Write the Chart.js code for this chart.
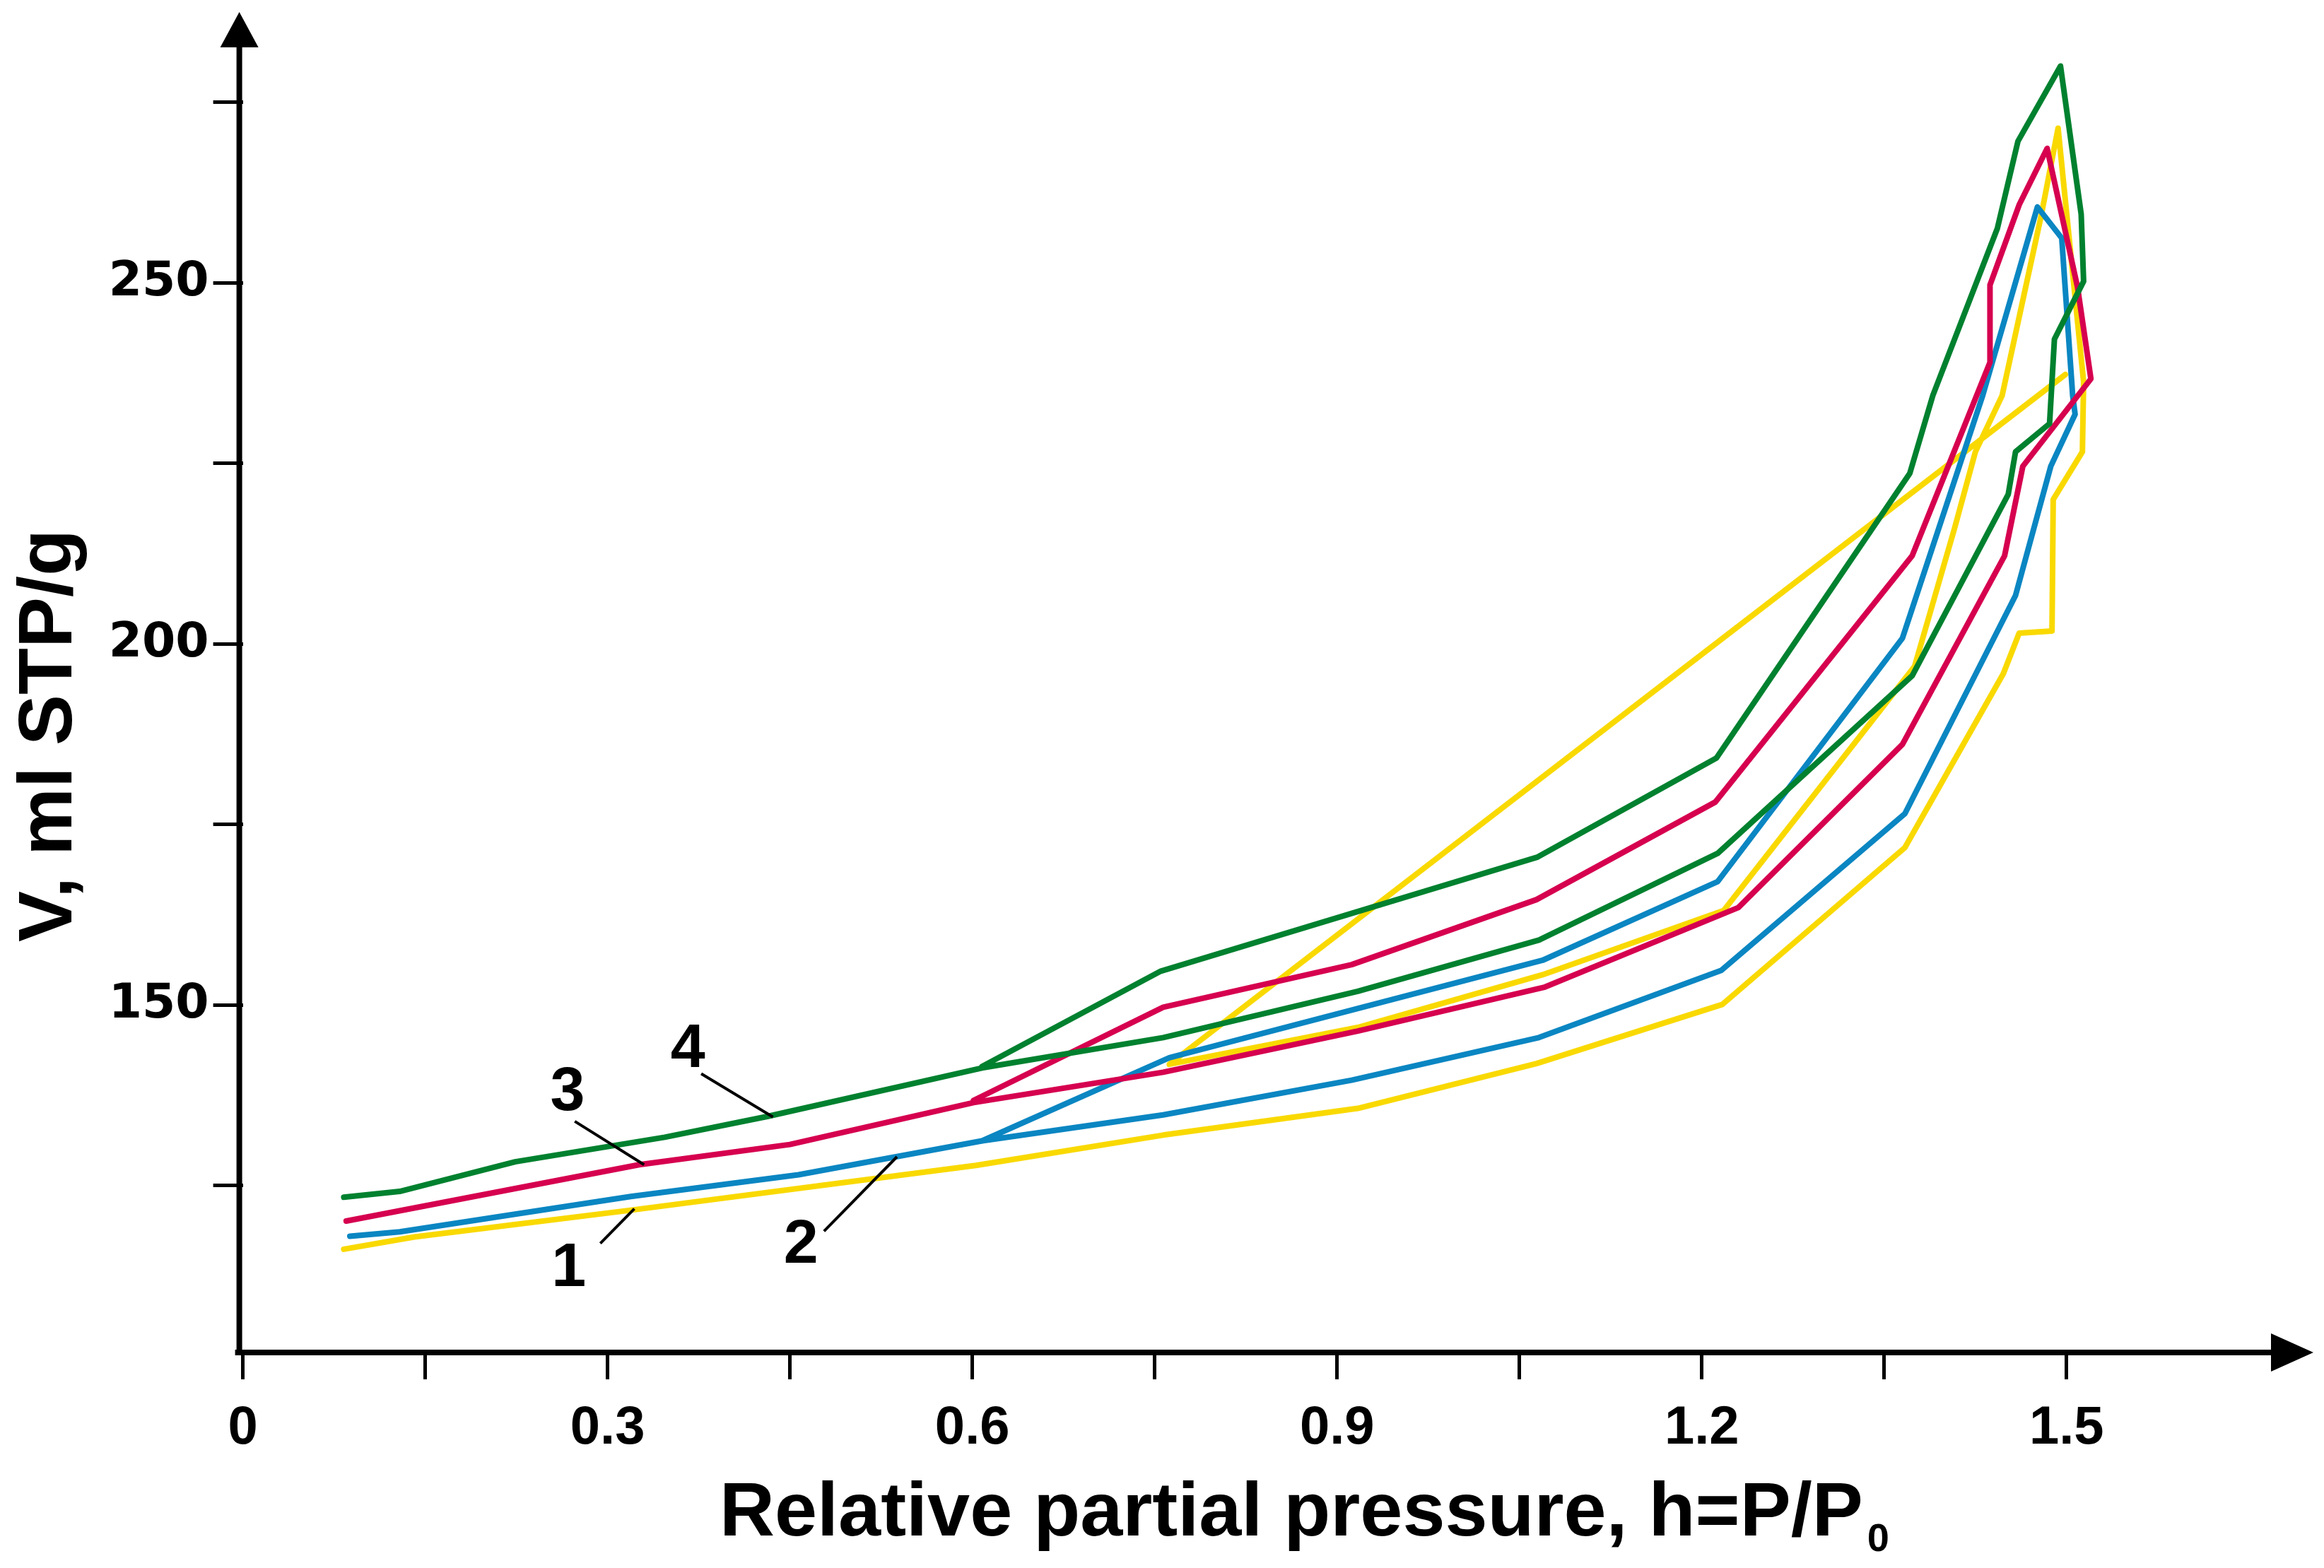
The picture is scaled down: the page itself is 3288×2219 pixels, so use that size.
<!DOCTYPE html>
<html>
<head>
<meta charset="utf-8">
<title>Adsorption / desorption isotherms</title>
<script src="https://cdn.jsdelivr.net/npm/chart.js@4.4.1/dist/chart.umd.min.js"></script>
<style>
  html, body { margin: 0; padding: 0; background: #fff; }
  #chart-wrap { width: 3288px; height: 2219px; }
</style>
</head>
<body>
<div id="chart-wrap"><canvas id="isotherm-chart" width="3288" height="2219"></canvas></div>
<script>
// curve 1 (yellow): adsorption up to the top, back down and the long straight return
var curve1X = [0.083, 0.141, 0.319, 0.603, 0.757, 0.917, 1.064, 1.217, 1.367, 1.448, 1.461, 1.488, 1.489, 1.513, 1.514, 1.493, 1.479, 1.447, 1.425, 1.408, 1.375, 1.218, 1.069, 0.917, 0.762, 1.499];
var curve1Y = [116.2, 117.9, 121.6, 127.8, 132.0, 135.7, 141.9, 150.1, 171.8, 195.9, 201.5, 201.8, 220.0, 226.6, 236.3, 271.4, 259.2, 234.4, 226.6, 216.1, 196.9, 163.1, 154.2, 146.9, 141.8, 237.3];

// curve 2 (blue)
var curve2X = [0.088, 0.129, 0.319, 0.457, 0.608, 0.757, 0.912, 1.066, 1.216, 1.367, 1.458, 1.487, 1.507, 1.505, 1.496, 1.476, 1.431, 1.365, 1.213, 1.069, 0.762, 0.608];
var curve2Y = [118.0, 118.6, 123.5, 126.5, 131.2, 134.8, 139.6, 145.5, 154.8, 176.5, 206.7, 224.6, 231.8, 234.4, 256.2, 260.5, 234.4, 200.8, 167.1, 156.2, 142.7, 131.2];

// curve 3 (red)
var curve3X = [0.085, 0.326, 0.450, 0.601, 0.757, 0.917, 1.071, 1.230, 1.365, 1.449, 1.464, 1.520, 1.509, 1.484, 1.461, 1.437, 1.437, 1.373, 1.211, 1.064, 0.912, 0.757, 0.601];
var curve3Y = [120.1, 127.9, 130.7, 136.5, 140.7, 146.4, 152.5, 163.5, 186.1, 212.2, 224.6, 236.7, 249.4, 268.6, 260.8, 249.7, 239.0, 212.2, 178.1, 164.6, 155.6, 149.7, 136.8];

// curve 4 (green)
var curve4X = [0.083, 0.129, 0.224, 0.347, 0.432, 0.608, 0.757, 0.917, 1.066, 1.213, 1.373, 1.452, 1.458, 1.486, 1.490, 1.514, 1.512, 1.495, 1.460, 1.443, 1.390, 1.371, 1.212, 1.065, 0.755, 0.608];
var curve4Y = [123.4, 124.2, 128.3, 131.7, 134.6, 141.3, 145.5, 151.9, 159.0, 171.0, 195.6, 220.7, 226.6, 230.5, 242.2, 250.2, 259.5, 280.0, 269.6, 257.5, 234.4, 223.6, 184.2, 170.5, 154.7, 141.5];

var xTickValues = [0, 0.15, 0.3, 0.45, 0.6, 0.75, 0.9, 1.05, 1.2, 1.35, 1.5];
var xTickLabels = ['0', '', '0.3', '', '0.6', '', '0.9', '', '1.2', '', '1.5'];
var yTickValues = [125, 150, 175, 200, 225, 250, 275];
var yTickLabels = ['', '150', '', '200', '', '250', ''];

// curve numbers and their leader lines, in data units
var markText = ['1', '2', '3', '4'];
var markX = [0.268, 0.459, 0.267, 0.366];
var markY = [113.5, 116.7, 137.8, 143.8];
var leaderFromX = [0.294, 0.478, 0.273, 0.377];
var leaderFromY = [117.0, 118.7, 133.9, 140.5];
var leaderToX = [0.322, 0.538, 0.330, 0.436];
var leaderToY = [121.8, 129.0, 127.9, 134.5];

var FONT = "'Liberation Sans', Arial, sans-serif";

function toPoints(xs, ys) {
    return xs.map(function (x, i) {
        return { x: x, y: ys[i] };
    });
}

function lineSet(label, xs, ys, color, order) {
    return {
        label: label,
        data: toPoints(xs, ys),
        showLine: true,
        borderColor: color,
        backgroundColor: color,
        borderWidth: 8,
        pointRadius: 0,
        fill: false,
        tension: 0,
        order: order
    };
}

// arrows on both axes, axis titles and the numbered leaders
var decorations = {
    id: 'decorations',
    afterDraw: function (chart) {
        var ctx = chart.ctx;
        var area = chart.chartArea;
        var xs = chart.scales.x;
        var ys = chart.scales.y;
        var axisX = area.left - 5;

        ctx.save();
        ctx.strokeStyle = '#000';
        ctx.fillStyle = '#000';
        ctx.lineWidth = 8;
        ctx.lineCap = 'butt';

        ctx.beginPath();
        ctx.moveTo(axisX - 6, area.bottom);
        ctx.lineTo(area.right - 50, area.bottom);
        ctx.stroke();
        ctx.beginPath();
        ctx.moveTo(area.right, area.bottom);
        ctx.lineTo(area.right - 60, area.bottom - 27);
        ctx.lineTo(area.right - 60, area.bottom + 27);
        ctx.closePath();
        ctx.fill();

        ctx.beginPath();
        ctx.moveTo(axisX, area.bottom + 4);
        ctx.lineTo(axisX, area.top + 40);
        ctx.stroke();
        ctx.beginPath();
        ctx.moveTo(axisX, area.top - 4);
        ctx.lineTo(axisX - 27, area.top + 46);
        ctx.lineTo(axisX + 27, area.top + 46);
        ctx.closePath();
        ctx.fill();

        // x title with subscript
        ctx.textAlign = 'left';
        ctx.textBaseline = 'alphabetic';
        ctx.font = 'bold 108px ' + FONT;
        var title = 'Relative partial pressure, h=P/P';
        ctx.fillText(title, 1018, 2173);
        var w = ctx.measureText(title).width;
        ctx.font = 'bold 56px ' + FONT;
        ctx.fillText('0', 1018 + w + 6, 2195);

        // y title
        ctx.save();
        ctx.translate(101, 1041);
        ctx.rotate(-Math.PI / 2);
        ctx.textAlign = 'center';
        ctx.font = 'bold 108px ' + FONT;
        ctx.fillText('V, ml STP/g', 0, 0);
        ctx.restore();

        // curve numbers
        ctx.lineWidth = 4;
        for (var i = 0; i < markText.length; i++) {
            ctx.beginPath();
            ctx.moveTo(xs.getPixelForValue(leaderFromX[i]), ys.getPixelForValue(leaderFromY[i]));
            ctx.lineTo(xs.getPixelForValue(leaderToX[i]), ys.getPixelForValue(leaderToY[i]));
            ctx.stroke();
        }
        ctx.font = 'bold 88px ' + FONT;
        ctx.textAlign = 'center';
        ctx.textBaseline = 'middle';
        for (var j = 0; j < markText.length; j++) {
            ctx.fillText(markText[j], xs.getPixelForValue(markX[j]), ys.getPixelForValue(markY[j]));
        }
        ctx.restore();
    }
};

var ctx = document.getElementById('isotherm-chart');
new Chart(ctx, {
    type: 'scatter',
    data: {
        datasets: [
            lineSet('1', curve1X, curve1Y, '#F9D900', 4),
            lineSet('2', curve2X, curve2Y, '#0A86C2', 3),
            lineSet('3', curve3X, curve3Y, '#D6004F', 2),
            lineSet('4', curve4X, curve4Y, '#00812F', 1)
        ]
    },
    options: {
        responsive: false,
        animation: false,
        devicePixelRatio: 1,
        layout: { padding: { left: 0, top: 21, right: 15, bottom: 0 } },
        plugins: {
            legend: { display: false },
            tooltip: { enabled: false }
        },
        elements: {
            line: { borderJoinStyle: 'round', borderCapStyle: 'round' }
        },
        scales: {
            x: {
                type: 'linear',
                min: 0,
                max: 1.703,
                border: { display: false },
                grid: { drawOnChartArea: false, drawTicks: true, tickLength: 38, tickWidth: 5, tickColor: '#000' },
                ticks: {
                    autoSkip: false,
                    maxRotation: 0,
                    padding: 24,
                    color: '#000',
                    font: { family: FONT, size: 76, weight: 'bold' },
                    callback: function (value, index) {
                        return xTickLabels[index];
                    }
                },
                afterBuildTicks: function (scale) {
                    scale.ticks = xTickValues.map(function (v) { return { value: v }; });
                },
                afterFit: function (scale) {
                    scale.height = 2219 - 1914;
                    scale.paddingLeft = 0;
                    scale.paddingRight = 0;
                }
            },
            y: {
                type: 'linear',
                min: 101.9,
                max: 287.1,
                border: { display: false },
                grid: { drawOnChartArea: false, drawTicks: true, tickLength: 42, tickWidth: 5, tickColor: '#000' },
                ticks: {
                    autoSkip: false,
                    padding: 6,
                    color: '#000',
                    font: { family: "'DejaVu Sans', sans-serif", size: 68, weight: 'bold' },
                    callback: function (value, index) {
                        return yTickLabels[index];
                    }
                },
                afterBuildTicks: function (scale) {
                    scale.ticks = yTickValues.map(function (v) { return { value: v }; });
                },
                afterFit: function (scale) {
                    scale.width = 343.6;
                    scale.paddingTop = 0;
                    scale.paddingBottom = 0;
                }
            }
        }
    },
    plugins: [decorations]
});
</script>
</body>
</html>
